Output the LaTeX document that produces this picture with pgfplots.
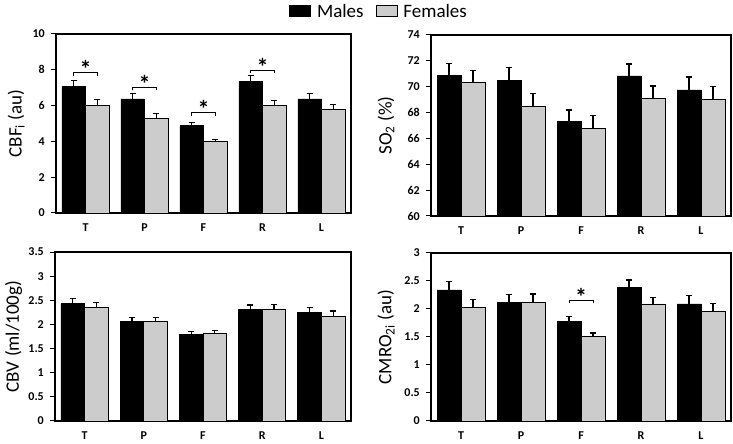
\documentclass[border=0pt]{standalone}
\usepackage{pgfplots}
\pgfplotsset{compat=1.18}
\usepackage{pgfplotstable}
\usepackage{fontspec}
\setmainfont{Carlito}
\definecolor{fgray}{RGB}{204,204,204}

\pgfplotstableread{
x m me f fe
0 7.07 0.33 6.02 0.33
1 6.37 0.32 5.31 0.26
2 4.87 0.20 3.98 0.13
3 7.35 0.32 6.00 0.30
4 6.37 0.30 5.78 0.28
}\cbf
\pgfplotstableread{
x m me f fe
0 70.85 0.95 70.33 0.95
1 70.50 1.00 68.45 1.05
2 67.28 0.93 66.80 0.97
3 70.83 0.93 69.10 0.95
4 69.75 1.00 69.02 0.98
}\sot
\pgfplotstableread{
x m me f fe
0 2.43 0.10 2.35 0.10
1 2.06 0.09 2.06 0.09
2 1.79 0.06 1.81 0.07
3 2.31 0.09 2.32 0.09
4 2.24 0.11 2.17 0.11
}\cbv
\pgfplotstableread{
x m me f fe
0 2.34 0.15 2.02 0.15
1 2.11 0.15 2.11 0.16
2 1.77 0.09 1.51 0.06
3 2.38 0.14 2.09 0.12
4 2.09 0.15 1.95 0.15
}\cmro

\pgfplotsset{
  panel/.style={
    anchor=south west, scale only axis,
    ybar, bar width=0.4,
    xmin=-0.5, xmax=4.5,
    xtick={0,1,2,3,4}, xticklabels={T,P,F,R,L},
    xtick style={draw=none},
    xticklabel style={inner sep=1pt, yshift=-5pt},
    yticklabel style={inner sep=1pt, xshift=-5pt},
    ytick pos=left, tick align=outside,
    major tick length=5pt,
    ytick style={line width=1pt, black},
    axis line style={line width=1.6pt},
    tick label style={font=\fontsize{12}{14}\selectfont\bfseries},
    /pgf/number format/assume math mode=true,
    label style={font=\fontsize{19}{22}\selectfont},
    ylabel style={anchor=center},
  },
  mbar/.style={bar shift=-0.2, fill=black, draw=black, line width=0.8pt,
    error bars/.cd, y dir=plus, y explicit,
    error bar style={line width=1.3pt, black},
    error mark options={rotate=90, mark size=3pt, line width=1.3pt, black}},
  fbar/.style={bar shift=0.2, fill=fgray, draw=black, line width=0.8pt,
    error bars/.cd, y dir=plus, y explicit,
    error bar style={line width=1.3pt, black},
    error mark options={rotate=90, mark size=3pt, line width=1.3pt, black}},
}
% #1 left x, #2 right x, #3 centre x, #4 y
\newcommand{\sig}[4]{%
  \draw[line width=0.8pt] ([yshift=-3pt]axis cs:#1,#4) -- (axis cs:#1,#4) -- (axis cs:#2,#4) -- ([yshift=-3pt]axis cs:#2,#4);
  \node[anchor=base, inner sep=0pt, yshift=-5pt, font=\fontsize{24}{24}\selectfont\bfseries] at (axis cs:#3,#4) {*};}

\begin{document}
\begin{tikzpicture}
\useasboundingbox (0,0) rectangle (733pt,444pt);

% CBF
\begin{axis}[panel, at={(56pt,231pt)}, width=295pt, height=179pt,
  ymin=0, ymax=10, ytick={0,2,4,6,8,10},
  ylabel={CBF\textsubscript{i} (au)},
  ylabel style={at={(axis description cs:-0.135,0.5)}},
  legend style={at={(axis description cs:1.095,1.125)}, anchor=center, draw=none,
    font=\fontsize{19}{22}\selectfont, legend columns=2,
    /tikz/every even column/.append style={column sep=10pt}},
  legend image code/.code={\draw[#1, line width=0.8pt] (0pt,-5pt) rectangle (21pt,6pt); \path (25pt,0pt);},
]
\addplot[mbar] table[x=x, y=m, y error=me] {\cbf};
\addlegendentry{Males}
\addplot[fbar] table[x=x, y=f, y error=fe] {\cbf};
\addlegendentry{Females}
\sig{-0.2}{0.2}{0}{7.83}
\sig{0.8}{1.2}{1}{7.02}
\sig{1.8}{2.2}{2}{5.61}
\sig{2.8}{3.2}{3}{7.98}
\end{axis}

% SO2
\begin{axis}[panel, at={(431pt,228pt)}, width=300pt, height=181pt,
  ymin=60, ymax=74, ytick={60,62,64,66,68,70,72,74},
  ylabel={SO\textsubscript{2} (\%)},
  ylabel style={at={(axis description cs:-0.15,0.5)}},
]
\addplot[mbar] table[x=x, y=m, y error=me] {\sot};
\addplot[fbar] table[x=x, y=f, y error=fe] {\sot};
\end{axis}

% CBV
\begin{axis}[panel, at={(55pt,23pt)}, width=296pt, height=169pt,
  ymin=0, ymax=3.5, ytick={0,0.5,1,1.5,2,2.5,3,3.5},
  ylabel={CBV (ml/100g)},
  ylabel style={at={(axis description cs:-0.14,0.5)}},
]
\addplot[mbar] table[x=x, y=m, y error=me] {\cbv};
\addplot[fbar] table[x=x, y=f, y error=fe] {\cbv};
\end{axis}

% CMRO2
\begin{axis}[panel, at={(431pt,23pt)}, width=300pt, height=168pt,
  ymin=0, ymax=3, ytick={0,0.5,1,1.5,2,2.5,3},
  ylabel={CMRO\textsubscript{2i} (au)},
  ylabel style={at={(axis description cs:-0.15,0.5)}},
]
\addplot[mbar] table[x=x, y=m, y error=me] {\cmro};
\addplot[fbar] table[x=x, y=f, y error=fe] {\cmro};
\sig{1.8}{2.2}{2}{2.16}
\end{axis}
\end{tikzpicture}
\end{document}
